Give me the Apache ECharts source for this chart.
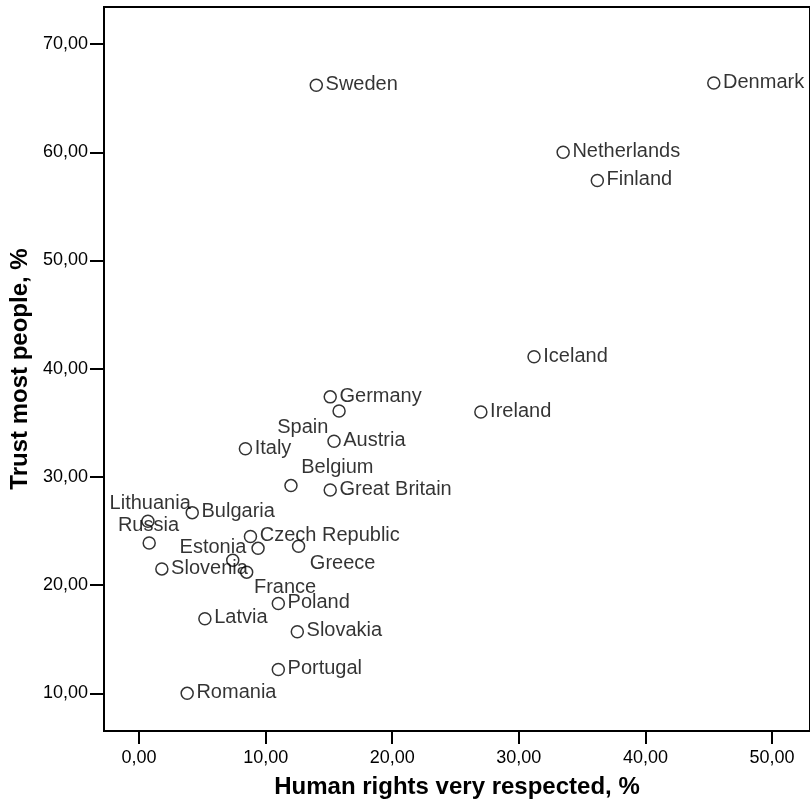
<!DOCTYPE html>
<html>
<head>
<meta charset="utf-8">
<script src="https://cdn.jsdelivr.net/npm/echarts@6/dist/echarts.min.js"></script>
<style>
  html, body { margin: 0; padding: 0; background: #fff; }
  #chart { width: 810px; height: 804px; }
</style>
</head>
<body>
<div id="chart"></div>
<script>
// Countries with share saying human rights are very respected (x) and share trusting most people (y)
const countries = [
  'Denmark', 'Sweden', 'Netherlands', 'Finland', 'Iceland', 'Ireland',
  'Germany', 'Spain', 'Austria', 'Italy', 'Belgium', 'Great Britain',
  'Lithuania', 'Bulgaria', 'Russia', 'Czech Republic', 'Estonia', '',
  'France', 'Greece', 'Slovenia', 'Poland', 'Latvia', 'Slovakia',
  'Portugal', 'Romania'
];
const humanRights = [
  45.4, 14.0, 33.5, 36.2, 31.2, 27.0,
  15.1, 15.8, 15.4, 8.4, 12.0, 15.1,
  0.7, 4.2, 0.8, 8.8, 9.4, 7.4,
  8.5, 12.6, 1.8, 11.0, 5.2, 12.5,
  11.0, 3.8
];
const trust = [
  66.4, 66.2, 60.0, 57.4, 41.1, 36.0,
  37.4, 36.1, 33.3, 32.6, 29.2, 28.8,
  25.9, 26.7, 23.9, 24.5, 23.4, 22.3,
  21.2, 23.6, 21.5, 18.3, 16.9, 15.7,
  12.2, 10.0
];
const xTicks = [0, 10, 20, 30, 40, 50];
const yTicks = [10, 20, 30, 40, 50, 60, 70];

// Labels that sit somewhere other than to the right of their marker
const labelPlacement = {
  'Spain':     { align: 'right',  offset: [-10, 17] },
  'Belgium':   { align: 'left',   offset: [11, -17] },
  'Lithuania': { align: 'center', offset: [3, -17] },
  'Russia':    { align: 'center', offset: [0, -17] },
  'Estonia':   { align: 'right',  offset: [-11, 0] },
  'France':    { align: 'left',   offset: [8, 16] },
  'Greece':    { align: 'left',   offset: [12, 18] }
};

const FONT = "'Liberation Sans', Arial, Helvetica, sans-serif";
const SYMBOL = 12;
const comma = v => v.toFixed(2).replace('.', ',');

const points = countries.map((name, i) => {
  const place = labelPlacement[name] || { align: 'left', offset: [10, 0] };
  return {
    name: name,
    value: [humanRights[i], trust[i]],
    label: {
      show: name !== '',
      // anchor measured from the marker's centre
      position: [SYMBOL / 2 + place.offset[0], SYMBOL / 2 + place.offset[1]],
      align: place.align,
      verticalAlign: 'middle',
      color: '#000',
      textBorderWidth: 0
    }
  };
});

const chart = echarts.init(document.getElementById('chart'), null, { renderer: 'canvas' });
chart.setOption({
  animation: false,
  backgroundColor: '#fff',
  grid: {
    left: 104, top: 7, right: -5, bottom: 73,
    show: true, borderColor: '#000', borderWidth: 2,
    containLabel: false
  },
  xAxis: {
    type: 'value',
    min: -2.77, max: 53.0,
    name: 'Human rights very respected, %',
    nameLocation: 'middle',
    nameGap: 44,
    nameTextStyle: { fontFamily: FONT, fontSize: 24, fontWeight: 'bold', color: '#000' },
    axisLine: { show: true, onZero: false, lineStyle: { color: '#000', width: 2 } },
    axisTick: { show: true, length: 13, lineStyle: { color: '#000', width: 2 }, customValues: xTicks },
    axisLabel: { fontFamily: FONT, fontSize: 18, color: '#000', margin: 18, customValues: xTicks, formatter: comma },
    splitLine: { show: false }
  },
  yAxis: {
    type: 'value',
    min: 6.52, max: 73.43,
    name: 'Trust most people, %',
    nameLocation: 'middle',
    nameGap: 63,
    nameRotate: 90,
    nameTextStyle: { fontFamily: FONT, fontSize: 24, fontWeight: 'bold', color: '#000' },
    axisLine: { show: true, onZero: false, lineStyle: { color: '#000', width: 2 } },
    axisTick: { show: true, length: 14, lineStyle: { color: '#000', width: 2 }, customValues: yTicks },
    axisLabel: { fontFamily: FONT, fontSize: 18, color: '#000', margin: 16, customValues: yTicks, formatter: comma },
    splitLine: { show: false }
  },
  series: [{
    type: 'scatter',
    symbol: 'circle',
    symbolSize: SYMBOL,
    itemStyle: { color: 'rgba(255,255,255,0)', borderColor: '#000', borderWidth: 1.5 },
    label: {
      fontFamily: FONT, fontSize: 20, color: '#000',
      formatter: p => p.name
    },
    emphasis: { disabled: true },
    data: points
  }]
});
</script>
</body>
</html>
